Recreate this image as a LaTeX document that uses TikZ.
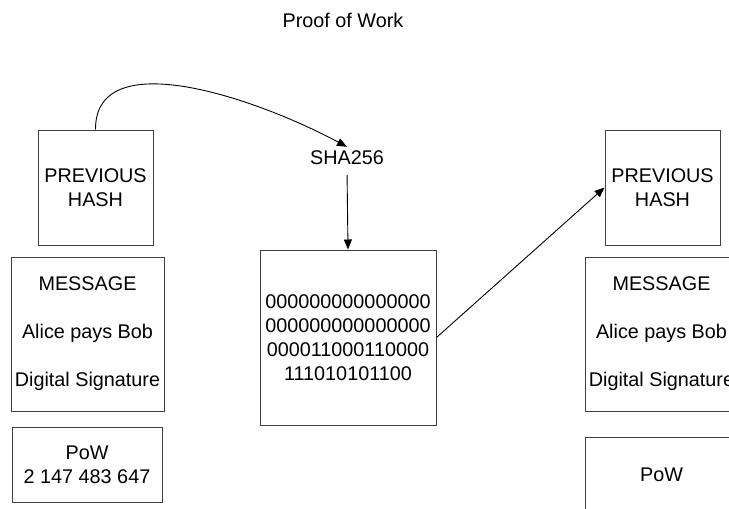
\documentclass[tikz,border=0pt]{standalone}
\usepackage{fontspec}
\setmainfont{Liberation Sans}
\usetikzlibrary{arrows.meta}
\tikzset{
  blk/.style={draw=black!75, line width=1pt, align=center, inner sep=0pt},
  arr/.style={-{Triangle[length=10pt,width=8pt]}, line width=0.9pt}
}
\begin{document}
\begin{tikzpicture}[x=1pt,y=-1pt, font=\fontsize{19.8}{24}\selectfont]
    \useasboundingbox (0,0) rectangle (729,509);
    \node (title) at (343,20) {Proof of Work};
    % left block
    \node[blk, minimum width=115pt, minimum height=115pt] (ph_1) at (95.5,187.5) {PREVIOUS\\HASH};
    \node[blk, minimum width=153pt, minimum height=154pt] (msg_1) at (87.5,334) {MESSAGE\\[24pt]Alice pays Bob\\[24pt]Digital Signature};
    \node[blk, minimum width=150pt, minimum height=75pt] (pow_1) at (87,464.5) {PoW\\2 147 483 647};
    % hashing
    \node[inner sep=4pt] (sha) at (347,158) {SHA256};
    \node[blk, minimum width=176pt, minimum height=175pt] (hash) at (348,337.5) {000000000000000\\000000000000000\\000011000110000\\111010101100};
    % right block
    \node[blk, minimum width=115pt, minimum height=115pt] (ph_2) at (662.5,187.5) {PREVIOUS\\HASH};
    \node[blk, minimum width=153pt, minimum height=154pt] (msg_2) at (661.5,334) {MESSAGE\\[24pt]Alice pays Bob\\[24pt]Digital Signature};
    \node[blk, minimum width=153pt, minimum height=75pt] (pow_2) at (661.5,474.5) {PoW};
    % arrows
    \draw[arr] (ph_1.north) .. controls (95,45) and (250,95) .. (sha.north);
    \draw[arr, shorten <=6pt] (sha.south) -- (hash.north);
    \draw[arr] (hash.east) -- (ph_2.west);
\end{tikzpicture}
\end{document}
